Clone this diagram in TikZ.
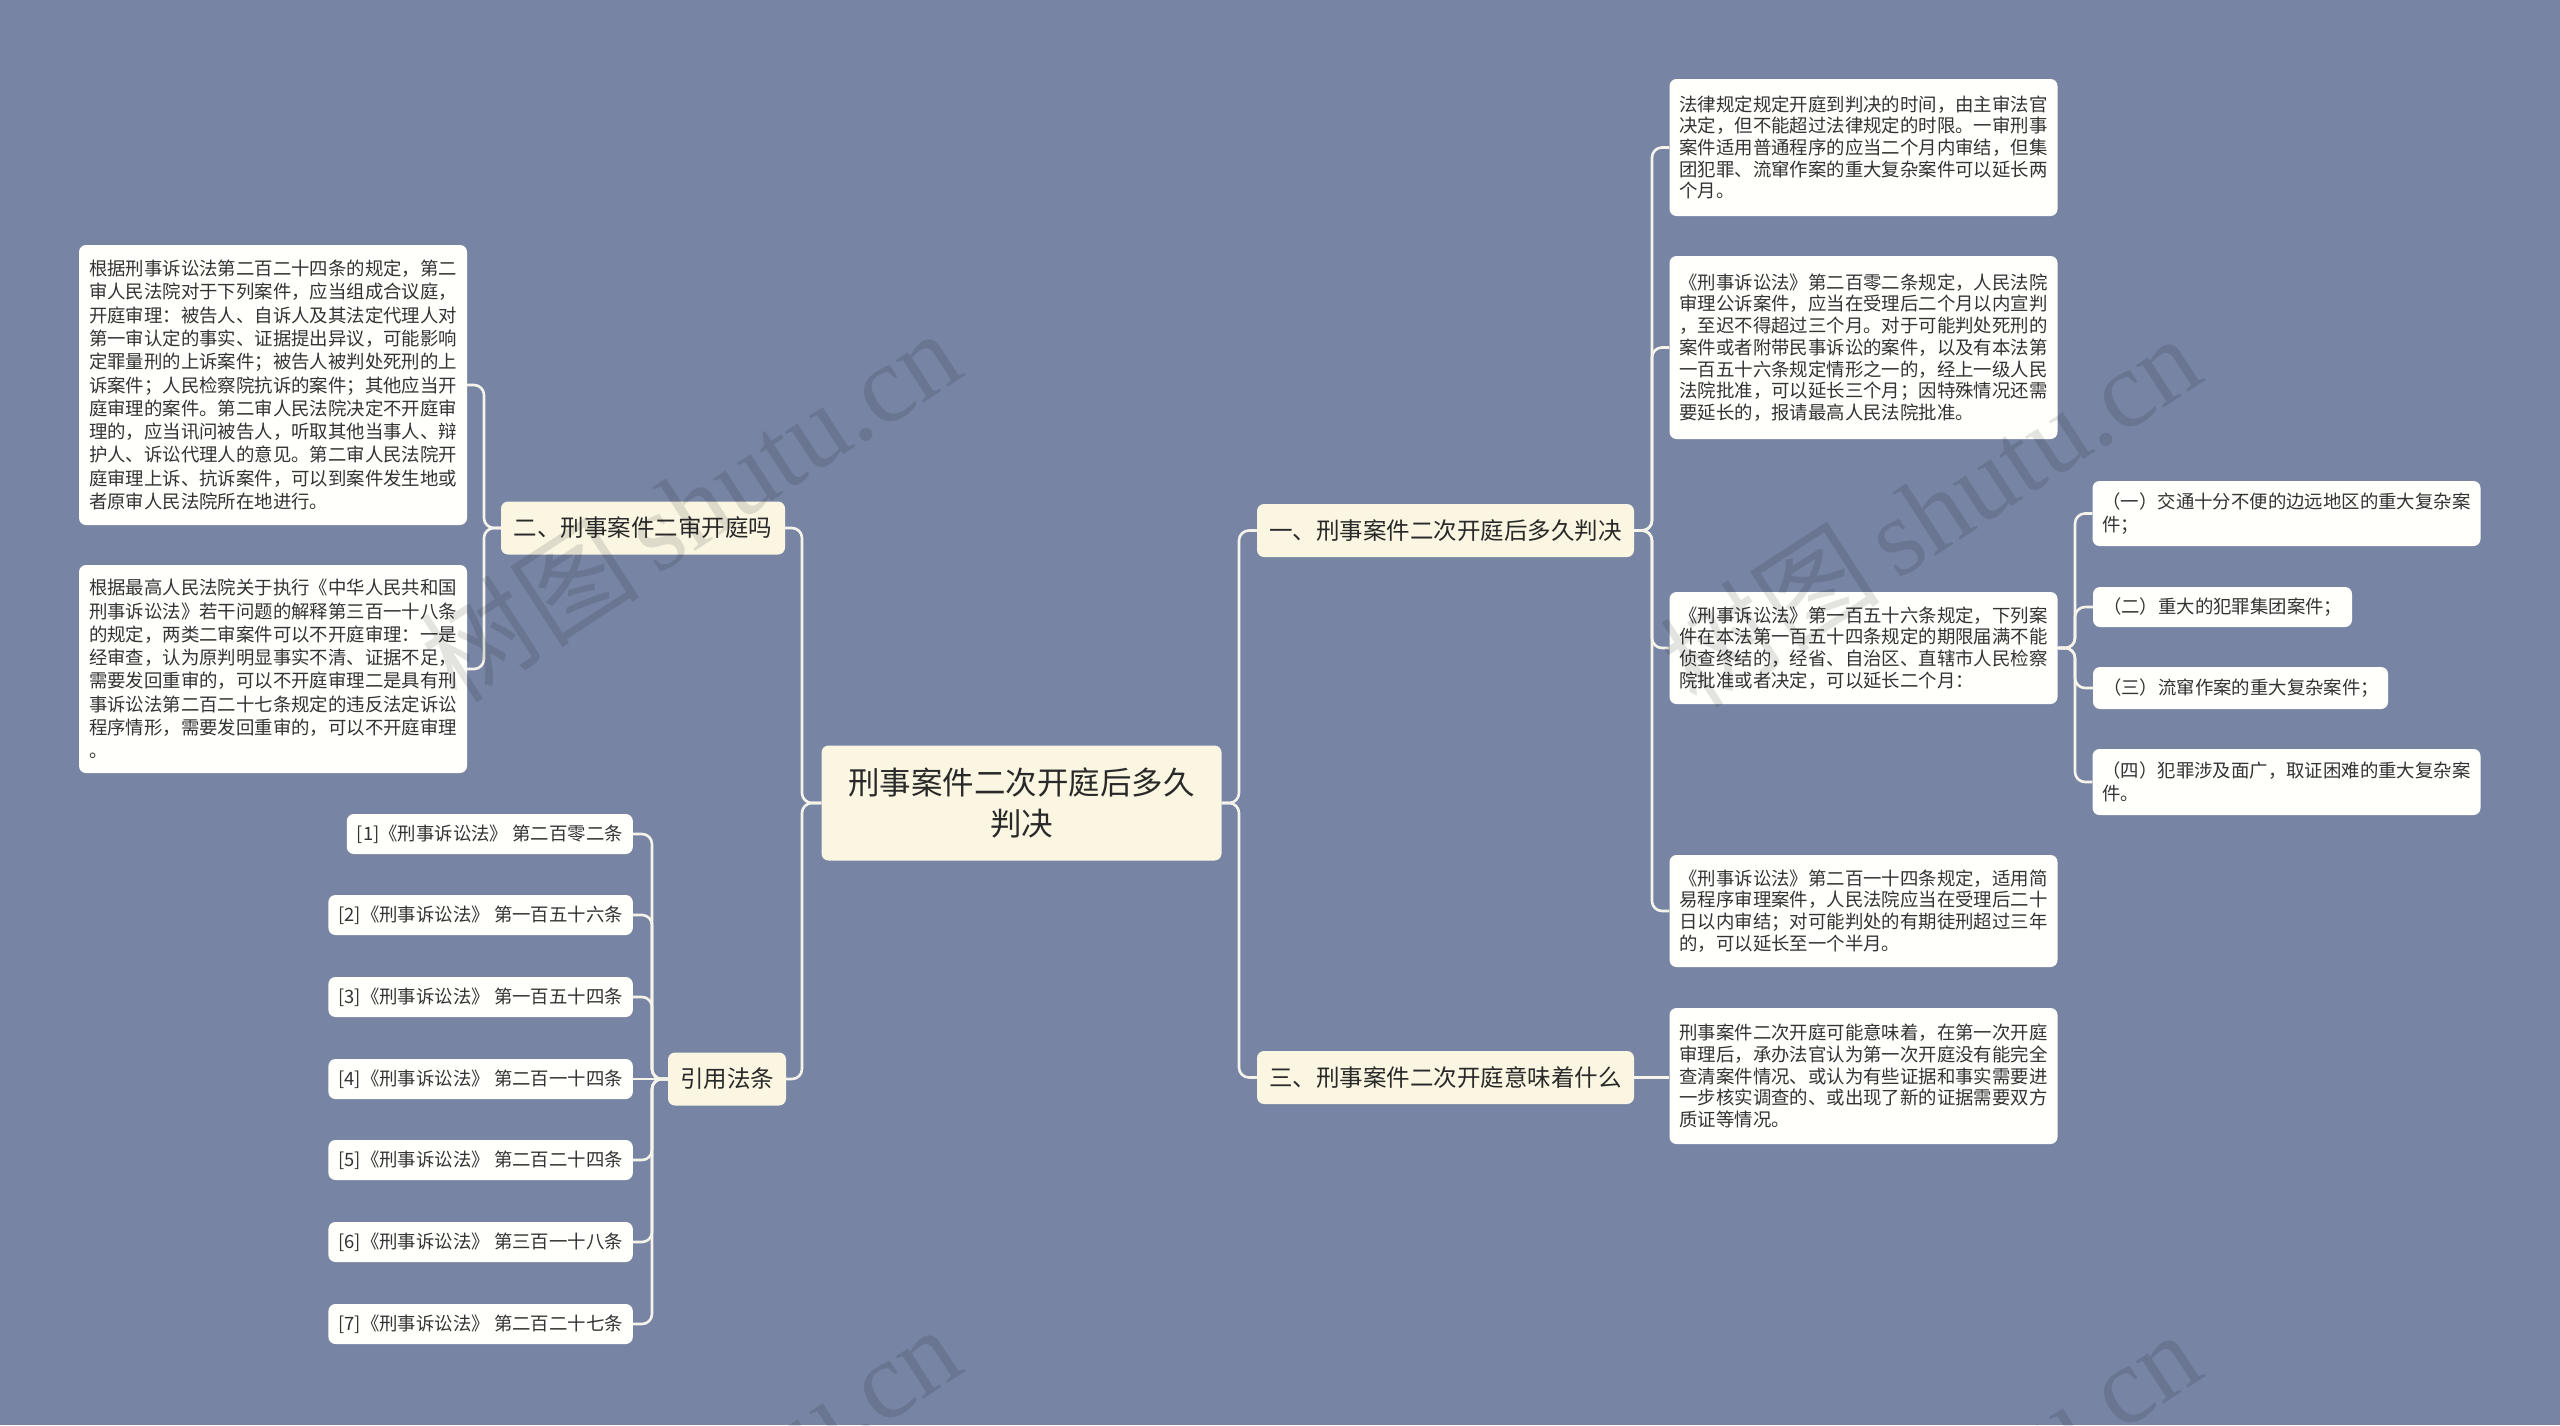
\documentclass[tikz,border=0pt]{standalone}
\usepackage{fontspec}
\setmainfont{Noto Sans CJK SC}
\newfontfamily\wmlatin{Liberation Serif}
\definecolor{bgc}{HTML}{7784A4}
\definecolor{cream}{HTML}{FAF6E2}
\definecolor{leafc}{HTML}{FFFFFB}
\definecolor{linec}{HTML}{F6F4EA}
\definecolor{txt}{HTML}{333333}
\tikzset{
  rootbox/.style={fill=cream, rounded corners=7pt, text=txt!80!black, align=center,
    font=\fontsize{31.5}{41}\selectfont, minimum width=400pt, minimum height=115pt, inner sep=0pt},
  branchbox/.style={fill=cream, rounded corners=7pt, text=txt!80!black,
    font=\fontsize{23.5}{28}\selectfont, minimum height=53pt, inner xsep=12pt, inner ysep=0pt},
  leafR/.style={fill=leafc, rounded corners=7pt, text=txt, align=left, text width=368pt,
    font=\fontsize{18.4}{21.7}\selectfont, inner xsep=10pt, inner ysep=0pt},
  leafL/.style={fill=leafc, rounded corners=7pt, text=txt, align=left, text width=368pt,
    font=\fontsize{18.4}{23.3}\selectfont, inner xsep=10pt, inner ysep=0pt},
  citebox/.style={fill=leafc, rounded corners=7pt, text=txt, anchor=east,
    font=\fontsize{18.4}{22}\selectfont, minimum height=40pt, inner xsep=10pt, inner ysep=0pt},
  conn/.style={draw=linec, line width=2.6pt, rounded corners=10pt},
  wm/.style={text=black, opacity=0.11, rotate=33, inner sep=0pt}
}
\begin{document}
\begin{tikzpicture}[x=1pt,y=-1pt]
\useasboundingbox (0,0) rectangle (2560,1425);
\fill[bgc] (0,0) rectangle (2560,1425);

% root and branches
\node[rootbox] (root) at (1021.5,803) {刑事案件二次开庭后多久\\判决};
\node[branchbox, minimum width=377pt] (b1) at (1445.5,530.5) {一、刑事案件二次开庭后多久判决};
\node[branchbox, minimum width=377pt] (b3) at (1445.5,1077.5) {三、刑事案件二次开庭意味着什么};
\node[branchbox, minimum width=284pt] (b2) at (643,528) {二、刑事案件二审开庭吗};
\node[branchbox, minimum width=118pt] (b4) at (727,1079) {引用法条};

% right leaves
\node[leafR, minimum height=137pt] (L1) at (1863.5,147.5) {法律规定规定开庭到判决的时间，由主审法官\\决定，但不能超过法律规定的时限。一审刑事\\案件适用普通程序的应当二个月内审结，但集\\团犯罪、流窜作案的重大复杂案件可以延长两\\个月。};
\node[leafR, minimum height=183pt] (L2) at (1863.5,347.5) {《刑事诉讼法》第二百零二条规定，人民法院\\审理公诉案件，应当在受理后二个月以内宣判\\，至迟不得超过三个月。对于可能判处死刑的\\案件或者附带民事诉讼的案件，以及有本法第\\一百五十六条规定情形之一的，经上一级人民\\法院批准，可以延长三个月；因特殊情况还需\\要延长的，报请最高人民法院批准。};
\node[leafR, minimum height=112pt] (L3) at (1863.5,648) {《刑事诉讼法》第一百五十六条规定，下列案\\件在本法第一百五十四条规定的期限届满不能\\侦查终结的，经省、自治区、直辖市人民检察\\院批准或者决定，可以延长二个月：};
\node[leafR, minimum height=112pt] (L4) at (1863.5,911) {《刑事诉讼法》第二百一十四条规定，适用简\\易程序审理案件，人民法院应当在受理后二十\\日以内审结；对可能判处的有期徒刑超过三年\\的，可以延长至一个半月。};
\node[leafR, minimum height=136pt] (L5) at (1863.5,1076) {刑事案件二次开庭可能意味着，在第一次开庭\\审理后，承办法官认为第一次开庭没有能完全\\查清案件情况、或认为有些证据和事实需要进\\一步核实调查的、或出现了新的证据需要双方\\质证等情况。};

% sub-leaves of L3
\node[leafL, minimum height=65pt] (C1) at (2286.5,513.5) {（一）交通十分不便的边远地区的重大复杂案\\件；};
\node[leafL, text width=239pt, minimum height=40pt] (C2) at (2222.5,607) {（二）重大的犯罪集团案件；};
\node[leafL, text width=275pt, minimum height=42pt] (C3) at (2240.5,688) {（三）流窜作案的重大复杂案件；};
\node[leafL, minimum height=66pt] (C4) at (2286.5,782) {（四）犯罪涉及面广，取证困难的重大复杂案\\件。};

% left leaves
\node[leafL, minimum height=280pt] (LL1) at (273,385) {根据刑事诉讼法第二百二十四条的规定，第二\\审人民法院对于下列案件，应当组成合议庭，\\开庭审理：被告人、自诉人及其法定代理人对\\第一审认定的事实、证据提出异议，可能影响\\定罪量刑的上诉案件；被告人被判处死刑的上\\诉案件；人民检察院抗诉的案件；其他应当开\\庭审理的案件。第二审人民法院决定不开庭审\\理的，应当讯问被告人，听取其他当事人、辩\\护人、诉讼代理人的意见。第二审人民法院开\\庭审理上诉、抗诉案件，可以到案件发生地或\\者原审人民法院所在地进行。};
\node[leafL, minimum height=208pt] (LL2) at (273,669) {根据最高人民法院关于执行《中华人民共和国\\刑事诉讼法》若干问题的解释第三百一十八条\\的规定，两类二审案件可以不开庭审理：一是\\经审查，认为原判明显事实不清、证据不足，\\需要发回重审的，可以不开庭审理二是具有刑\\事诉讼法第二百二十七条规定的违反法定诉讼\\程序情形，需要发回重审的，可以不开庭审理\\。};

% citations
\node[citebox] (R1) at (633,834) {[1]《刑事诉讼法》 第二百零二条};
\node[citebox] (R2) at (633,915) {[2]《刑事诉讼法》 第一百五十六条};
\node[citebox] (R3) at (633,997) {[3]《刑事诉讼法》 第一百五十四条};
\node[citebox] (R4) at (633,1079) {[4]《刑事诉讼法》 第二百一十四条};
\node[citebox] (R5) at (633,1160) {[5]《刑事诉讼法》 第二百二十四条};
\node[citebox] (R6) at (633,1242) {[6]《刑事诉讼法》 第三百一十八条};
\node[citebox] (R7) at (633,1324) {[7]《刑事诉讼法》 第二百二十七条};

% bus coordinates
\coordinate (busR) at (1239,0);
\coordinate (busL) at (802,0);
\coordinate (busB1) at (1652,0);
\coordinate (busL3) at (2075,0);
\coordinate (busB2) at (484,0);
\coordinate (busB4) at (652,0);

% connectors
\draw[conn] (root.east) -| (busR |- b1.west) -- (b1.west);
\draw[conn] (root.east) -| (busR |- b3.west) -- (b3.west);
\draw[conn] (root.west) -| (busL |- b2.east) -- (b2.east);
\draw[conn] (root.west) -| (busL |- b4.east) -- (b4.east);

\foreach \t in {L1,L2,L3,L4}
  \draw[conn] (b1.east) -| (busB1 |- \t.west) -- (\t.west);
\draw[conn] (b3.east) -- (b3.east -| L5.west);

\foreach \t in {C1,C2,C3,C4}
  \draw[conn] (L3.east) -| (busL3 |- \t.west) -- (\t.west);

\foreach \t in {LL1,LL2}
  \draw[conn] (b2.west) -| (busB2 |- \t.east) -- (\t.east);

\foreach \t in {R1,R2,R3,R5,R6,R7}
  \draw[conn] (b4.west) -| (busB4 |- \t.east) -- (\t.east);
\draw[conn] (b4.west) -- (R4.east);

% watermarks
\begin{scope}
\clip (0,0) rectangle (2560,1425);
\node[wm] (wm1) at (690,505) {\fontsize{110}{110}\selectfont 树图\,\wmlatin shutu.cn};
\node[wm] (wm2) at (1930,510) {\fontsize{110}{110}\selectfont 树图\,\wmlatin shutu.cn};
\node[wm] (wm3) at (690,1501) {\fontsize{110}{110}\selectfont 树图\,\wmlatin shutu.cn};
\node[wm] (wm4) at (1930,1506) {\fontsize{110}{110}\selectfont 树图\,\wmlatin shutu.cn};
\end{scope}
\end{tikzpicture}
\end{document}
